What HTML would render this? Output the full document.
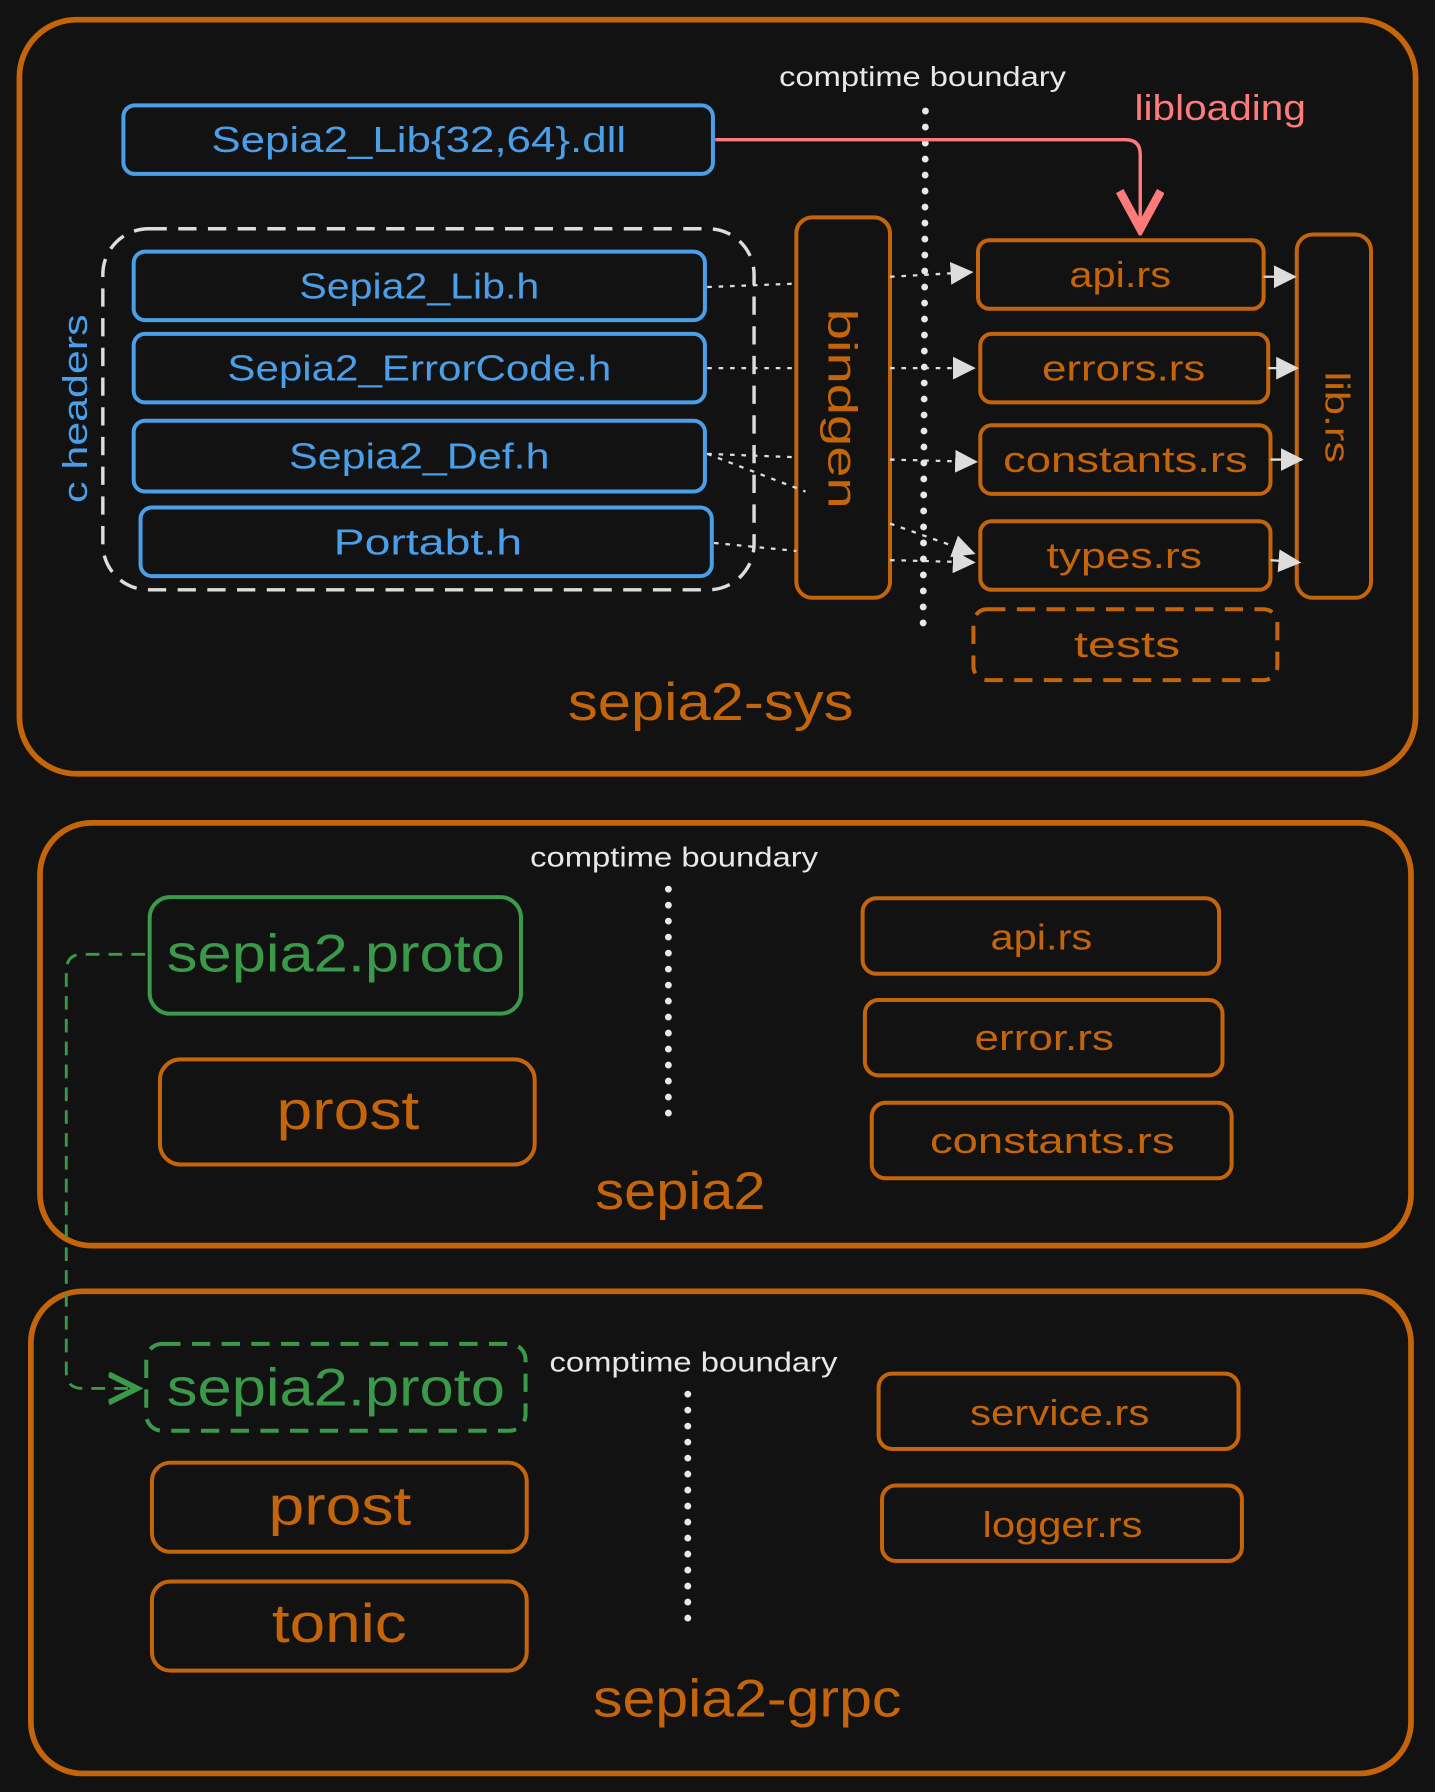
<!DOCTYPE html>
<html><head><meta charset="utf-8"><style>
html,body{margin:0;padding:0;background:#121212;}
svg{display:block}
text{font-family:"Liberation Sans",sans-serif;}
</style></head><body>
<svg width="1435" height="1792" viewBox="0 0 1256 1568" xmlns="http://www.w3.org/2000/svg">
<defs>
<marker id="aw" markerWidth="10" markerHeight="10" refX="9" refY="5" orient="auto"><path d="M0,0 L10,5 L0,10 z" fill="#ddd"/></marker>
<marker id="ag" markerWidth="12" markerHeight="12" refX="10" refY="6" orient="auto"><path d="M0,1 L10,6 L0,11" fill="none" stroke="#3a9a4a" stroke-width="2"/></marker>
<marker id="ap" markerWidth="14" markerHeight="14" refX="7" refY="12" orient="0"><path d="M1,1 L7,12 L13,1" fill="none" stroke="#ff7b7b" stroke-width="2.5"/></marker>
</defs>
<rect width="1256" height="1568" fill="#121212"/>
<g fill="none" stroke="#c4650c" stroke-width="5">
<rect x="17" y="17" width="1222" height="660" rx="50"/>
<rect x="35" y="720" width="1200" height="370" rx="45"/>
<rect x="27" y="1130" width="1208" height="422" rx="45"/>
</g>
<g stroke="#e8e8e8" stroke-width="6" stroke-linecap="round" stroke-dasharray="0 14">
<line x1="810" y1="97" x2="808" y2="545"/>
<line x1="585" y1="778" x2="585" y2="985"/>
<line x1="602" y1="1220" x2="602" y2="1425"/>
</g>
<g fill="#e8e8e8" font-size="24" lengthAdjust="spacingAndGlyphs">
<text x="682" y="75" textLength="251" lengthAdjust="spacingAndGlyphs">comptime boundary</text>
<text x="464" y="758" textLength="252" lengthAdjust="spacingAndGlyphs">comptime boundary</text>
<text x="481" y="1200" textLength="252" lengthAdjust="spacingAndGlyphs">comptime boundary</text>
</g>
<g fill="none" stroke="#4a9fe8" stroke-width="3.5">
<rect x="108" y="92" width="516" height="60" rx="10"/>
<rect x="117" y="220" width="500" height="60" rx="10"/>
<rect x="117" y="292" width="500" height="60" rx="10"/>
<rect x="117" y="368" width="500" height="62" rx="10"/>
<rect x="123" y="444" width="500" height="60" rx="10"/>
</g>
<rect x="90" y="200" width="570" height="316" rx="40" fill="none" stroke="#ddd" stroke-width="3" stroke-dasharray="16 10"/>
<g fill="#4a9fe8" font-size="32">
<text x="185" y="133" textLength="363" lengthAdjust="spacingAndGlyphs">Sepia2_Lib{32,64}.dll</text>
<text x="262" y="261" textLength="210" lengthAdjust="spacingAndGlyphs">Sepia2_Lib.h</text>
<text x="199" y="333" textLength="336" lengthAdjust="spacingAndGlyphs">Sepia2_ErrorCode.h</text>
<text x="253" y="410" textLength="228" lengthAdjust="spacingAndGlyphs">Sepia2_Def.h</text>
<text x="292" y="485" textLength="165" lengthAdjust="spacingAndGlyphs">Portabt.h</text>
<text transform="translate(76,440) rotate(-90)" font-size="30" textLength="165" lengthAdjust="spacingAndGlyphs">c headers</text>
</g>
<path d="M626,122 L985,122 Q998,122 998,135 L998,200" fill="none" stroke="#ff7b7b" stroke-width="3" marker-end="url(#ap)"/>
<text x="993" y="105" fill="#ff7b7b" font-size="32" textLength="150" lengthAdjust="spacingAndGlyphs">libloading</text>
<g fill="none" stroke="#c4650c" stroke-width="3.5">
<rect x="697" y="190" width="82" height="333" rx="14"/>
<rect x="856" y="210" width="250" height="60" rx="10"/>
<rect x="858" y="292" width="252" height="60" rx="10"/>
<rect x="858" y="372" width="254" height="60" rx="10"/>
<rect x="858" y="456" width="254" height="60" rx="10"/>
<rect x="852" y="533" width="266" height="62" rx="12" stroke-dasharray="16 10"/>
<rect x="1135" y="205" width="65" height="318" rx="14"/>
</g>
<g fill="#c4650c" font-size="32">
<text transform="translate(725,270) rotate(90)" font-size="36" textLength="175" lengthAdjust="spacingAndGlyphs">bindgen</text>
<text x="936" y="251" textLength="89" lengthAdjust="spacingAndGlyphs">api.rs</text>
<text x="912" y="333" textLength="143" lengthAdjust="spacingAndGlyphs">errors.rs</text>
<text x="878" y="413" textLength="214" lengthAdjust="spacingAndGlyphs">constants.rs</text>
<text x="916" y="497" textLength="136" lengthAdjust="spacingAndGlyphs">types.rs</text>
<text x="940" y="575" textLength="93" lengthAdjust="spacingAndGlyphs">tests</text>
<text transform="translate(1160,325) rotate(90)" font-size="30" textLength="80" lengthAdjust="spacingAndGlyphs">lib.rs</text>
<text x="497" y="630" font-size="46" textLength="250" lengthAdjust="spacingAndGlyphs">sepia2-sys</text>
</g>
<g stroke="#ddd" stroke-width="2" stroke-dasharray="4 6" fill="none">
<line x1="619" y1="251" x2="697" y2="248"/>
<line x1="619" y1="322" x2="697" y2="322"/>
<line x1="619" y1="397" x2="705" y2="430"/>
<line x1="619" y1="397" x2="697" y2="400"/>
<line x1="625" y1="475" x2="697" y2="482"/>
<line x1="779" y1="242" x2="850" y2="238" marker-end="url(#aw)"/>
<line x1="779" y1="322" x2="852" y2="322" marker-end="url(#aw)"/>
<line x1="779" y1="402" x2="854" y2="404" marker-end="url(#aw)"/>
<line x1="779" y1="458" x2="852" y2="484" marker-end="url(#aw)"/>
<line x1="779" y1="490" x2="852" y2="492" marker-end="url(#aw)"/>
</g>
<g stroke="#ddd" stroke-width="2" fill="none">
<line x1="1106" y1="242" x2="1133" y2="242" marker-end="url(#aw)"/>
<line x1="1110" y1="322" x2="1135" y2="322" marker-end="url(#aw)"/>
<line x1="1112" y1="402" x2="1139" y2="402" marker-end="url(#aw)"/>
<line x1="1112" y1="490" x2="1137" y2="492" marker-end="url(#aw)"/>
</g>
<rect x="131" y="785" width="325" height="102" rx="18" fill="none" stroke="#3a9a4a" stroke-width="3.5"/>
<text x="146" y="850" fill="#3a9a4a" font-size="46" textLength="296" lengthAdjust="spacingAndGlyphs">sepia2.proto</text>
<g fill="none" stroke="#c4650c" stroke-width="3.5">
<rect x="140" y="927" width="328" height="92" rx="18"/>
<rect x="755" y="786" width="312" height="66" rx="12"/>
<rect x="757" y="875" width="313" height="66" rx="12"/>
<rect x="763" y="965" width="315" height="66" rx="12"/>
<rect x="133" y="1280" width="328" height="78" rx="16"/>
<rect x="133" y="1384" width="328" height="78" rx="16"/>
<rect x="769" y="1202" width="315" height="66" rx="12"/>
<rect x="772" y="1300" width="315" height="66" rx="12"/>
</g>
<g fill="#c4650c" font-size="32">
<text x="242" y="988" font-size="48" textLength="125" lengthAdjust="spacingAndGlyphs">prost</text>
<text x="867" y="831" textLength="89" lengthAdjust="spacingAndGlyphs">api.rs</text>
<text x="853" y="919" textLength="122" lengthAdjust="spacingAndGlyphs">error.rs</text>
<text x="814" y="1009" textLength="214" lengthAdjust="spacingAndGlyphs">constants.rs</text>
<text x="521" y="1058" font-size="46" textLength="149" lengthAdjust="spacingAndGlyphs">sepia2</text>
<text x="235" y="1334" font-size="48" textLength="125" lengthAdjust="spacingAndGlyphs">prost</text>
<text x="238" y="1437" font-size="48" textLength="118" lengthAdjust="spacingAndGlyphs">tonic</text>
<text x="849" y="1247" textLength="157" lengthAdjust="spacingAndGlyphs">service.rs</text>
<text x="860" y="1345" textLength="140" lengthAdjust="spacingAndGlyphs">logger.rs</text>
<text x="519" y="1502" font-size="46" textLength="270" lengthAdjust="spacingAndGlyphs">sepia2-grpc</text>
</g>
<rect x="128" y="1176" width="332" height="76" rx="14" fill="none" stroke="#3a9a4a" stroke-width="3.5" stroke-dasharray="16 10"/>
<text x="146" y="1230" fill="#3a9a4a" font-size="46" textLength="296" lengthAdjust="spacingAndGlyphs">sepia2.proto</text>
<path d="M127,835 L72,835 Q58,835 58,850 L58,1200 Q58,1215 72,1215 L120,1215" fill="none" stroke="#3a9a4a" stroke-width="2.5" stroke-dasharray="12 8" marker-end="url(#ag)"/>
</svg>
</body></html>
